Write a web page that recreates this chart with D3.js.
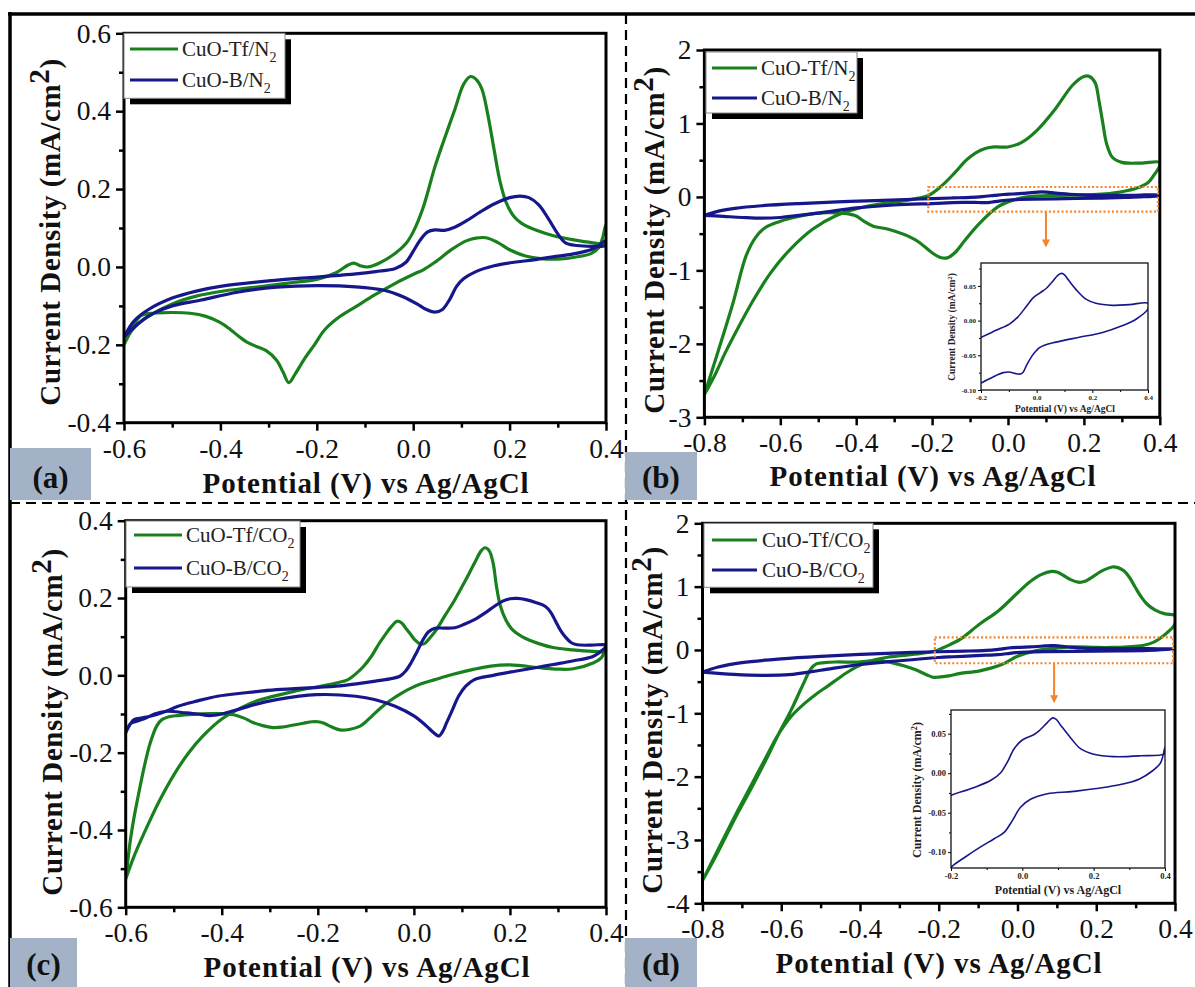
<!DOCTYPE html>
<html>
<head>
<meta charset="utf-8">
<script src="https://cdn.jsdelivr.net/npm/d3@7"></script>
<style>
  body { margin: 0; background: #fff; }
  text { font-family: "Liberation Serif", "Times New Roman", serif; }
</style>
</head>
<body>
<script>
// ---- values: [potential (V vs Ag/AgCl), current density (mA/cm2)] ----
// each loop = forward (anodic) scan then reverse (cathodic) scan

// (a) N2, small window
var tfN2 = [[-0.6,-0.2],[-0.585,-0.165],[-0.565,-0.14],[-0.54,-0.12],[-0.5,-0.095],[-0.45,-0.075],[-0.4,-0.063],[-0.35,-0.055],[-0.3,-0.048],[-0.25,-0.04],[-0.2,-0.032],[-0.16,-0.015],[-0.135,0.005],[-0.123,0.01],[-0.11,0.003],[-0.094,0.0],[-0.07,0.01],[-0.037,0.035],[-0.015,0.06],[0.0,0.09],[0.02,0.15],[0.045,0.257],[0.065,0.33],[0.086,0.403],[0.105,0.47],[0.119,0.489],[0.132,0.48],[0.143,0.455],[0.155,0.39],[0.168,0.30],[0.18,0.22],[0.193,0.165],[0.21,0.128],[0.225,0.112],[0.26,0.092],[0.291,0.08],[0.33,0.07],[0.373,0.062],[0.4,0.06],
  [0.4,0.11],[0.393,0.075],[0.385,0.05],[0.37,0.035],[0.35,0.028],[0.3,0.02],[0.26,0.022],[0.233,0.028],[0.2,0.044],[0.175,0.063],[0.151,0.075],[0.13,0.074],[0.11,0.067],[0.08,0.045],[0.045,0.012],[0.02,-0.008],[0.004,-0.017],[-0.037,-0.042],[-0.08,-0.072],[-0.119,-0.102],[-0.155,-0.13],[-0.184,-0.162],[-0.205,-0.2],[-0.225,-0.235],[-0.245,-0.275],[-0.258,-0.297],[-0.27,-0.27],[-0.283,-0.24],[-0.305,-0.215],[-0.324,-0.205],[-0.345,-0.193],[-0.36,-0.18],[-0.38,-0.16],[-0.4,-0.143],[-0.43,-0.127],[-0.463,-0.119],[-0.5,-0.117],[-0.529,-0.118],[-0.55,-0.12],[-0.565,-0.125],[-0.578,-0.145],[-0.59,-0.175],[-0.6,-0.2]];
var bN2 = [[-0.6,-0.18],[-0.58,-0.14],[-0.55,-0.11],[-0.5,-0.08],[-0.45,-0.062],[-0.4,-0.05],[-0.3,-0.036],[-0.2,-0.026],[-0.119,-0.018],[-0.078,-0.012],[-0.037,-0.004],[-0.015,0.012],[0.0,0.04],[0.015,0.07],[0.03,0.09],[0.045,0.095],[0.065,0.094],[0.086,0.102],[0.11,0.118],[0.14,0.142],[0.17,0.163],[0.2,0.178],[0.222,0.182],[0.24,0.178],[0.26,0.16],[0.28,0.125],[0.3,0.085],[0.316,0.062],[0.34,0.055],[0.37,0.053],[0.4,0.055],
  [0.4,0.068],[0.385,0.055],[0.37,0.045],[0.33,0.033],[0.29,0.026],[0.25,0.018],[0.209,0.012],[0.168,0.003],[0.13,-0.012],[0.105,-0.03],[0.09,-0.05],[0.075,-0.085],[0.06,-0.11],[0.045,-0.116],[0.025,-0.108],[0.012,-0.098],[-0.02,-0.077],[-0.06,-0.06],[-0.119,-0.051],[-0.2,-0.048],[-0.283,-0.052],[-0.365,-0.065],[-0.44,-0.085],[-0.5,-0.1],[-0.54,-0.12],[-0.57,-0.145],[-0.6,-0.18]];

// (b) N2, wide window
var tfN2wide = [[-0.8,-2.69],[-0.77,-2.4],[-0.745,-2.12],[-0.71,-1.77],[-0.675,-1.44],[-0.625,-1.03],[-0.575,-0.72],[-0.515,-0.44],[-0.455,-0.26],[-0.375,-0.13],[-0.3,-0.07],[-0.25,-0.03],[-0.21,0.02],[-0.175,0.15],[-0.14,0.33],[-0.11,0.5],[-0.085,0.6],[-0.06,0.66],[-0.035,0.68],[0.0,0.68],[0.035,0.74],[0.075,0.9],[0.125,1.2],[0.17,1.52],[0.2,1.64],[0.215,1.64],[0.23,1.55],[0.24,1.3],[0.25,1.0],[0.26,0.72],[0.275,0.54],[0.3,0.47],[0.35,0.46],[0.4,0.47],
  [0.4,0.42],[0.385,0.3],[0.37,0.2],[0.34,0.12],[0.3,0.07],[0.225,0.03],[0.125,0.02],[0.05,0.0],[0.015,-0.04],[-0.025,-0.13],[-0.075,-0.36],[-0.115,-0.6],[-0.14,-0.76],[-0.16,-0.83],[-0.18,-0.82],[-0.2,-0.76],[-0.245,-0.58],[-0.315,-0.44],[-0.355,-0.4],[-0.38,-0.33],[-0.4,-0.26],[-0.43,-0.225],[-0.47,-0.215],[-0.5,-0.22],[-0.555,-0.27],[-0.605,-0.34],[-0.64,-0.42],[-0.665,-0.55],[-0.69,-0.8],[-0.725,-1.45],[-0.765,-2.12],[-0.8,-2.69]];
var bN2wide = [[-0.8,-0.25],[-0.76,-0.19],[-0.72,-0.155],[-0.65,-0.12],[-0.55,-0.09],[-0.45,-0.068],[-0.35,-0.05],[-0.27,-0.035],[-0.2,-0.024],[-0.146,-0.014],[-0.098,-0.005],[-0.068,0.005],[-0.036,0.021],[-0.012,0.033],[0.012,0.040],[0.036,0.047],[0.054,0.055],[0.078,0.066],[0.09,0.068],[0.1,0.066],[0.115,0.058],[0.141,0.045],[0.177,0.031],[0.213,0.025],[0.273,0.022],[0.333,0.023],[0.4,0.025],
  [0.4,0.017],[0.357,0.002],[0.309,-0.007],[0.237,-0.017],[0.153,-0.024],[0.069,-0.031],[0.03,-0.035],[0.01,-0.039],[-0.005,-0.045],[-0.02,-0.053],[-0.036,-0.064],[-0.048,-0.074],[-0.058,-0.077],[-0.078,-0.076],[-0.1,-0.074],[-0.12,-0.075],[-0.146,-0.079],[-0.2,-0.09],[-0.3,-0.11],[-0.4,-0.15],[-0.5,-0.22],[-0.6,-0.28],[-0.65,-0.29],[-0.7,-0.28],[-0.75,-0.265],[-0.8,-0.25]];

// (c) CO2, small window
var tfCO2 = [[-0.6,-0.527],[-0.58,-0.46],[-0.555,-0.39],[-0.53,-0.325],[-0.5,-0.258],[-0.47,-0.202],[-0.44,-0.158],[-0.4,-0.113],[-0.36,-0.084],[-0.327,-0.066],[-0.244,-0.04],[-0.162,-0.02],[-0.137,-0.011],[-0.12,0.005],[-0.105,0.023],[-0.088,0.05],[-0.072,0.083],[-0.058,0.108],[-0.047,0.126],[-0.035,0.14],[-0.026,0.136],[-0.018,0.124],[-0.008,0.108],[0.002,0.092],[0.012,0.082],[0.022,0.082],[0.032,0.095],[0.044,0.113],[0.065,0.155],[0.085,0.195],[0.105,0.24],[0.126,0.29],[0.14,0.322],[0.148,0.33],[0.157,0.322],[0.165,0.29],[0.172,0.23],[0.18,0.18],[0.192,0.142],[0.205,0.118],[0.225,0.1],[0.26,0.082],[0.29,0.072],[0.33,0.066],[0.373,0.062],[0.4,0.062],
  [0.4,0.07],[0.39,0.045],[0.373,0.032],[0.332,0.017],[0.3,0.016],[0.266,0.019],[0.2,0.027],[0.16,0.024],[0.126,0.016],[0.08,0.002],[0.044,-0.011],[0.015,-0.022],[-0.006,-0.033],[-0.027,-0.047],[-0.047,-0.063],[-0.068,-0.083],[-0.088,-0.106],[-0.1,-0.12],[-0.113,-0.132],[-0.135,-0.14],[-0.154,-0.141],[-0.172,-0.133],[-0.187,-0.124],[-0.2,-0.12],[-0.212,-0.12],[-0.23,-0.124],[-0.253,-0.129],[-0.275,-0.134],[-0.294,-0.135],[-0.315,-0.13],[-0.335,-0.122],[-0.355,-0.11],[-0.375,-0.102],[-0.4,-0.099],[-0.426,-0.099],[-0.46,-0.101],[-0.491,-0.104],[-0.51,-0.107],[-0.524,-0.114],[-0.535,-0.13],[-0.549,-0.175],[-0.562,-0.24],[-0.574,-0.312],[-0.583,-0.37],[-0.59,-0.424],[-0.6,-0.527]];
var bCO2 = [[-0.6,-0.149],[-0.59,-0.125],[-0.582,-0.114],[-0.565,-0.11],[-0.549,-0.106],[-0.52,-0.095],[-0.491,-0.08],[-0.45,-0.066],[-0.409,-0.054],[-0.35,-0.045],[-0.286,-0.037],[-0.2,-0.031],[-0.162,-0.028],[-0.12,-0.022],[-0.08,-0.015],[-0.05,-0.009],[-0.03,-0.003],[-0.018,0.01],[-0.006,0.032],[0.006,0.06],[0.019,0.092],[0.03,0.112],[0.044,0.122],[0.065,0.122],[0.085,0.123],[0.105,0.132],[0.126,0.144],[0.15,0.163],[0.167,0.178],[0.185,0.192],[0.2,0.198],[0.215,0.199],[0.233,0.196],[0.255,0.188],[0.274,0.178],[0.285,0.163],[0.295,0.14],[0.305,0.117],[0.315,0.1],[0.327,0.085],[0.34,0.079],[0.37,0.078],[0.4,0.079],
  [0.4,0.075],[0.385,0.058],[0.373,0.049],[0.33,0.037],[0.29,0.028],[0.25,0.019],[0.208,0.01],[0.165,0.0],[0.126,-0.011],[0.108,-0.028],[0.093,-0.054],[0.08,-0.09],[0.068,-0.123],[0.06,-0.145],[0.052,-0.157],[0.04,-0.147],[0.027,-0.132],[0.0,-0.105],[-0.039,-0.08],[-0.08,-0.063],[-0.121,-0.054],[-0.203,-0.05],[-0.286,-0.063],[-0.33,-0.075],[-0.368,-0.089],[-0.4,-0.1],[-0.426,-0.104],[-0.45,-0.1],[-0.475,-0.097],[-0.516,-0.093],[-0.54,-0.1],[-0.557,-0.11],[-0.575,-0.118],[-0.59,-0.125],[-0.6,-0.149]];

// (d) CO2, wide window
var tfCO2wide = [[-0.8,-3.64],[-0.77,-3.27],[-0.742,-2.92],[-0.71,-2.53],[-0.675,-2.12],[-0.64,-1.71],[-0.607,-1.33],[-0.575,-1.05],[-0.54,-0.84],[-0.51,-0.69],[-0.482,-0.57],[-0.455,-0.45],[-0.434,-0.36],[-0.41,-0.27],[-0.386,-0.2],[-0.36,-0.15],[-0.33,-0.115],[-0.289,-0.085],[-0.24,-0.05],[-0.212,-0.02],[-0.18,0.06],[-0.145,0.17],[-0.096,0.41],[-0.048,0.62],[0.0,0.9],[0.03,1.07],[0.06,1.19],[0.087,1.24],[0.1,1.23],[0.116,1.18],[0.135,1.11],[0.154,1.07],[0.17,1.08],[0.19,1.15],[0.212,1.24],[0.241,1.31],[0.255,1.3],[0.27,1.25],[0.285,1.14],[0.299,0.99],[0.315,0.83],[0.328,0.73],[0.35,0.63],[0.375,0.57],[0.4,0.54],
  [0.4,0.41],[0.385,0.3],[0.366,0.2],[0.345,0.12],[0.318,0.07],[0.28,0.05],[0.241,0.04],[0.2,0.04],[0.145,0.05],[0.1,0.03],[0.048,-0.01],[0.0,-0.1],[-0.04,-0.23],[-0.096,-0.33],[-0.145,-0.37],[-0.175,-0.41],[-0.2,-0.43],[-0.215,-0.43],[-0.231,-0.39],[-0.26,-0.31],[-0.289,-0.25],[-0.32,-0.2],[-0.347,-0.17],[-0.38,-0.175],[-0.405,-0.19],[-0.463,-0.19],[-0.49,-0.2],[-0.511,-0.22],[-0.525,-0.3],[-0.545,-0.55],[-0.575,-0.95],[-0.607,-1.33],[-0.64,-1.75],[-0.675,-2.17],[-0.71,-2.57],[-0.742,-2.96],[-0.77,-3.3],[-0.8,-3.64]];
var bCO2wide = [[-0.8,-0.35],[-0.76,-0.27],[-0.7,-0.2],[-0.6,-0.14],[-0.5,-0.1],[-0.4,-0.07],[-0.3,-0.045],[-0.2,-0.028],[-0.135,-0.018],[-0.088,-0.009],[-0.06,0.001],[-0.042,0.014],[-0.023,0.031],[0.0,0.042],[0.033,0.049],[0.05,0.055],[0.07,0.064],[0.085,0.07],[0.095,0.068],[0.107,0.061],[0.135,0.045],[0.163,0.031],[0.2,0.024],[0.256,0.021],[0.33,0.022],[0.4,0.025],
  [0.4,0.033],[0.393,0.02],[0.386,0.012],[0.33,-0.007],[0.256,-0.016],[0.144,-0.023],[0.07,-0.026],[0.023,-0.033],[-0.005,-0.043],[-0.028,-0.06],[-0.051,-0.075],[-0.079,-0.083],[-0.116,-0.093],[-0.163,-0.107],[-0.2,-0.119],[-0.3,-0.17],[-0.4,-0.23],[-0.5,-0.32],[-0.58,-0.39],[-0.65,-0.4],[-0.72,-0.385],[-0.8,-0.35]];

// legend names: [text, subscript]
var namesN2 = [["CuO-Tf/N", "2"], ["CuO-B/N", "2"]];
var namesCO2 = [["CuO-Tf/CO", "2"], ["CuO-B/CO", "2"]];

// tick values
var xTicksNarrow = [-0.6, -0.4, -0.2, 0.0, 0.2, 0.4], xMinorNarrow = [-0.5, -0.3, -0.1, 0.1, 0.3];
var xTicksWide = [-0.8, -0.6, -0.4, -0.2, 0.0, 0.2, 0.4], xMinorWide = [-0.7, -0.5, -0.3, -0.1, 0.1, 0.3];
var yTicksA = [-0.4, -0.2, 0.0, 0.2, 0.4, 0.6], yMinorA = [-0.3, -0.1, 0.1, 0.3, 0.5];
var yTicksB = [-3, -2, -1, 0, 1, 2], yMinorB = [-2.5, -1.5, -0.5, 0.5, 1.5];
var yTicksC = [-0.6, -0.4, -0.2, 0.0, 0.2, 0.4], yMinorC = [-0.5, -0.3, -0.1, 0.1, 0.3];
var yTicksD = [-4, -3, -2, -1, 0, 1, 2], yMinorD = [-3.5, -2.5, -1.5, -0.5, 0.5, 1.5];
var insetXTicks = [-0.2, 0.0, 0.2, 0.4], insetXMinor = [-0.1, 0.1, 0.3];
var insetYTicksB = [-0.10, -0.05, 0.00, 0.05], insetYMinorB = [-0.075, -0.025, 0.025, 0.075];
var insetYTicksD = [-0.10, -0.05, 0.00, 0.05], insetYMinorD = [-0.075, -0.025, 0.025, 0.075];
// dotted zoom window drawn in (b) and (d): [x0, x1, yTop, yBottom]
var zoomWinB = [-0.21, 0.395, 0.135, -0.2];
var zoomWinD = [-0.21, 0.395, 0.2, -0.21];

var green = "#18801c", blue = "#17178c", orange = "#f5832c", tagFill = "#a4b2c7";

var W = 1195, H = 987;
var svg = d3.select("body").append("svg").attr("width", W).attr("height", H);
var defs = svg.append("defs");

var fmt1 = function(d) { return d.toFixed(1); },
    fmt0 = function(d) { return d.toFixed(0); },
    fmt2 = function(d) { return d.toFixed(2); };

function drawPanel(p) {
  var x = d3.scaleLinear().domain(p.xDomain).range(p.xRange),
      y = d3.scaleLinear().domain(p.yDomain).range(p.yRange);
  var g = svg.append("g");

  defs.append("clipPath").attr("id", "clip" + p.id)
    .append("rect").attr("x", p.xRange[0]).attr("y", p.yRange[1])
    .attr("width", p.xRange[1] - p.xRange[0]).attr("height", p.yRange[0] - p.yRange[1]);

  var line = d3.line().x(function(d) { return x(d[0]); }).y(function(d) { return y(d[1]); })
      .curve(d3.curveCatmullRom.alpha(0.5));

  var colors = [green, blue];
  p.series.forEach(function(s, i) {
    g.append("path").attr("d", line(s)).attr("clip-path", "url(#clip" + p.id + ")")
      .attr("fill", "none").attr("stroke", colors[i]).attr("stroke-width", 3.2)
      .attr("stroke-linejoin", "round");
  });

  // axes
  var xAx = g.append("g").attr("transform", "translate(0," + p.yRange[0] + ")")
    .call(d3.axisBottom(x).tickValues(p.xTicks).tickSize(8).tickSizeOuter(0).tickFormat(p.xFmt));
  xAx.selectAll("text").attr("y", 35).attr("dy", 0);
  g.append("g").attr("transform", "translate(0," + p.yRange[0] + ")")
    .call(d3.axisBottom(x).tickValues(p.xMinor).tickSize(5).tickSizeOuter(0).tickFormat(""));
  g.append("g").attr("transform", "translate(" + p.xRange[0] + ",0)")
    .call(d3.axisLeft(y).tickValues(p.yTicks).tickSize(8).tickSizeOuter(0).tickPadding(5).tickFormat(p.yFmt));
  g.append("g").attr("transform", "translate(" + p.xRange[0] + ",0)")
    .call(d3.axisLeft(y).tickValues(p.yMinor).tickSize(5).tickSizeOuter(0).tickFormat(""));
  g.selectAll(".tick line").attr("stroke", "#000").attr("stroke-width", 2.5);
  g.selectAll(".domain").attr("stroke", "none");
  g.selectAll(".tick text").attr("font-size", 27.5).attr("font-family", "Liberation Serif").attr("fill", "#111");

  g.append("rect").attr("x", p.xRange[0]).attr("y", p.yRange[1])
    .attr("width", p.xRange[1] - p.xRange[0]).attr("height", p.yRange[0] - p.yRange[1])
    .attr("fill", "none").attr("stroke", "#000").attr("stroke-width", 3);

  // legend
  var L = p.legend;
  g.append("rect").attr("x", L.x + 6).attr("y", L.y + 6).attr("width", L.w).attr("height", L.h).attr("fill", "#000");
  g.append("rect").attr("x", L.x).attr("y", L.y).attr("width", L.w).attr("height", L.h)
    .attr("fill", "#fff").attr("stroke", "#888").attr("stroke-width", 1);
  p.names.forEach(function(nm, i) {
    var yy = L.rows[i];
    g.append("line").attr("x1", L.l1).attr("x2", L.l2).attr("y1", yy).attr("y2", yy)
      .attr("stroke", colors[i]).attr("stroke-width", 3.2);
    var t = g.append("text").attr("x", L.tx).attr("y", yy + 7).attr("font-size", 21).attr("fill", "#222");
    t.append("tspan").text(nm[0]);
    t.append("tspan").attr("font-size", 14).attr("dy", 6).text(nm[1]);
  });

  // axis titles
  var yt = g.append("text").attr("transform", "translate(" + p.ylab[0] + "," + p.ylab[1] + ") rotate(-90)")
    .attr("text-anchor", "middle").attr("font-size", 29).attr("font-weight", "bold")
    .attr("letter-spacing", 0.6).attr("fill", "#111");
  yt.append("tspan").text("Current Density (mA/cm");
  yt.append("tspan").attr("dy", -11).text("2");
  yt.append("tspan").attr("dy", 11).text(")");
  g.append("text").attr("x", p.xlab[0]).attr("y", p.xlab[1]).attr("text-anchor", "middle")
    .attr("font-size", 29).attr("font-weight", "bold").attr("letter-spacing", 0.9).attr("fill", "#111")
    .text("Potential (V) vs Ag/AgCl");

  // panel tag
  var T = p.tag;
  g.append("rect").attr("x", T.x).attr("y", T.y).attr("width", T.w).attr("height", T.h).attr("fill", tagFill);
  g.append("text").attr("x", T.x + T.w / 2).attr("y", T.y + T.h - 12).attr("text-anchor", "middle")
    .attr("font-size", 31).attr("font-weight", "bold").attr("fill", "#111").text("(" + p.id + ")");

  return {x: x, y: y, g: g};
}

function drawZoomWindow(P, win, arrowX, arrowLen) {
  var x0 = P.x(win[0]), x1 = P.x(win[1]), y0 = P.y(win[2]), y1 = P.y(win[3]);
  P.g.append("rect").attr("x", x0).attr("y", y0).attr("width", x1 - x0).attr("height", y1 - y0)
    .attr("fill", "none").attr("stroke", orange).attr("stroke-width", 2.2).attr("stroke-dasharray", "2,2.2");
  var ax = P.x(arrowX);
  P.g.append("line").attr("x1", ax).attr("x2", ax).attr("y1", y1).attr("y2", y1 + arrowLen - 6)
    .attr("stroke", orange).attr("stroke-width", 2);
  P.g.append("path").attr("d", "M" + (ax - 4) + "," + (y1 + arrowLen - 8) + "L" + (ax + 4) + "," + (y1 + arrowLen - 8) + "L" + ax + "," + (y1 + arrowLen) + "Z")
    .attr("fill", orange);
}

function drawInset(s) {
  var x = d3.scaleLinear().domain([-0.2, 0.4]).range([s.box[0], s.box[0] + s.box[2]]),
      y = d3.scaleLinear().domain(s.yDomain).range([s.box[1] + s.box[3], s.box[1]]);
  var g = svg.append("g");
  defs.append("clipPath").attr("id", "clipIn" + s.id)
    .append("rect").attr("x", s.box[0]).attr("y", s.box[1]).attr("width", s.box[2]).attr("height", s.box[3]);
  g.append("rect").attr("x", s.box[0]).attr("y", s.box[1]).attr("width", s.box[2]).attr("height", s.box[3])
    .attr("fill", "#fff");
  var line = d3.line().x(function(d) { return x(d[0]); }).y(function(d) { return y(d[1]); })
      .curve(d3.curveCatmullRom.alpha(0.5));
  g.append("path").attr("d", line(s.data)).attr("clip-path", "url(#clipIn" + s.id + ")")
    .attr("fill", "none").attr("stroke", blue).attr("stroke-width", 1.6);

  var bottom = s.box[1] + s.box[3];
  g.append("g").attr("transform", "translate(0," + bottom + ")")
    .call(d3.axisBottom(x).tickValues(insetXTicks).tickSize(3).tickSizeOuter(0).tickPadding(2).tickFormat(fmt1));
  g.append("g").attr("transform", "translate(0," + bottom + ")")
    .call(d3.axisBottom(x).tickValues(insetXMinor).tickSize(2).tickSizeOuter(0).tickFormat(""));
  g.append("g").attr("transform", "translate(" + s.box[0] + ",0)")
    .call(d3.axisLeft(y).tickValues(s.yTicks).tickSize(3).tickSizeOuter(0).tickPadding(2).tickFormat(fmt2));
  g.append("g").attr("transform", "translate(" + s.box[0] + ",0)")
    .call(d3.axisLeft(y).tickValues(s.yMinor).tickSize(2).tickSizeOuter(0).tickFormat(""));
  g.selectAll(".domain").attr("stroke", "none");
  g.selectAll(".tick line").attr("stroke", "#000").attr("stroke-width", 1);
  g.selectAll(".tick text").attr("font-size", s.tickFont).attr("font-weight", "bold")
    .attr("font-family", "Liberation Serif").attr("fill", "#222");
  g.append("rect").attr("x", s.box[0]).attr("y", s.box[1]).attr("width", s.box[2]).attr("height", s.box[3])
    .attr("fill", "none").attr("stroke", "#111").attr("stroke-width", 1.3);

  g.append("text").attr("x", s.xlab[0]).attr("y", s.xlab[1]).attr("text-anchor", "middle")
    .attr("font-size", s.labFont).attr("font-weight", "bold").attr("fill", "#222")
    .text("Potential (V) vs Ag/AgCl");
  var yt = g.append("text").attr("transform", "translate(" + s.ylab[0] + "," + s.ylab[1] + ") rotate(-90)")
    .attr("text-anchor", "middle").attr("font-size", s.labFont).attr("font-weight", "bold").attr("fill", "#222");
  yt.append("tspan").text("Current Density (mA/cm");
  yt.append("tspan").attr("dy", -s.labFont * 0.35).attr("font-size", s.labFont * 0.7).text("2");
  yt.append("tspan").attr("dy", s.labFont * 0.35).text(")");
}

// ---- frame: outer border and dashed separators ----
svg.append("line").attr("x1", 8).attr("x2", W).attr("y1", 14).attr("y2", 14).attr("stroke", "#000").attr("stroke-width", 3.5);
svg.append("line").attr("x1", 10).attr("x2", 10).attr("y1", 12).attr("y2", H).attr("stroke", "#000").attr("stroke-width", 3.5);
svg.append("line").attr("x1", 626).attr("x2", 626).attr("y1", 14).attr("y2", H)
  .attr("stroke", "#000").attr("stroke-width", 2.2).attr("stroke-dasharray", "10,6");
svg.append("line").attr("x1", 10).attr("x2", W).attr("y1", 503).attr("y2", 503)
  .attr("stroke", "#000").attr("stroke-width", 2.2).attr("stroke-dasharray", "10,6");

var pa = drawPanel({
  id: "a", xDomain: [-0.6, 0.4], yDomain: [-0.4, 0.6], xRange: [124, 606], yRange: [422.7, 33.3],
  xTicks: xTicksNarrow, xMinor: xMinorNarrow, yTicks: yTicksA, yMinor: yMinorA, xFmt: fmt1, yFmt: fmt1,
  series: [tfN2, bN2], names: namesN2,
  legend: {x: 124, y: 33.3, w: 161, h: 65, rows: [49, 80], l1: 130, l2: 178, tx: 182},
  ylab: [60, 232], xlab: [366, 493], tag: {x: 10, y: 448, w: 81, h: 52}
});
var pb = drawPanel({
  id: "b", xDomain: [-0.8, 0.4], yDomain: [-3, 2], xRange: [704.4, 1159.8], yRange: [417.3, 50],
  xTicks: xTicksWide, xMinor: xMinorWide, yTicks: yTicksB, yMinor: yMinorB, xFmt: fmt1, yFmt: fmt0,
  series: [tfN2wide, bN2wide], names: namesN2,
  legend: {x: 706, y: 52, w: 151, h: 61, rows: [68, 98], l1: 712, l2: 757, tx: 761},
  ylab: [664, 240], xlab: [933, 486], tag: {x: 625, y: 452, w: 72, h: 48}
});
var pc = drawPanel({
  id: "c", xDomain: [-0.6, 0.4], yDomain: [-0.6, 0.4], xRange: [125.7, 606], yRange: [907.3, 520.7],
  xTicks: xTicksNarrow, xMinor: xMinorNarrow, yTicks: yTicksC, yMinor: yMinorC, xFmt: fmt1, yFmt: fmt1,
  series: [tfCO2, bCO2], names: namesCO2,
  legend: {x: 126, y: 521, w: 174, h: 66, rows: [535, 568], l1: 134, l2: 182, tx: 186},
  ylab: [62, 722], xlab: [367, 977], tag: {x: 10, y: 938, w: 67, h: 49}
});
var pd = drawPanel({
  id: "d", xDomain: [-0.8, 0.4], yDomain: [-4, 2], xRange: [702.5, 1175], yRange: [903.3, 523.3],
  xTicks: xTicksWide, xMinor: xMinorWide, yTicks: yTicksD, yMinor: yMinorD, xFmt: fmt1, yFmt: fmt0,
  series: [tfCO2wide, bCO2wide], names: namesCO2,
  legend: {x: 704, y: 523.3, w: 169, h: 64, rows: [540, 570], l1: 712, l2: 757, tx: 762},
  ylab: [662, 720], xlab: [939, 973], tag: {x: 625, y: 938, w: 72, h: 49}
});

drawZoomWindow(pb, zoomWinB, 0.1, 36);
drawZoomWindow(pd, zoomWinD, 0.093, 40);

drawInset({id: "b", data: bN2wide, box: [981, 263, 167, 127], yDomain: [-0.10, 0.083],
  yTicks: insetYTicksB, yMinor: insetYMinorB, tickFont: 7, labFont: 9.5,
  xlab: [1065, 412], ylab: [955, 327]});
drawInset({id: "d", data: bCO2wide, box: [951, 710, 214, 158], yDomain: [-0.12, 0.08],
  yTicks: insetYTicksD, yMinor: insetYMinorD, tickFont: 8.5, labFont: 12,
  xlab: [1058, 894], ylab: [921, 790]});
</script>
</body>
</html>
